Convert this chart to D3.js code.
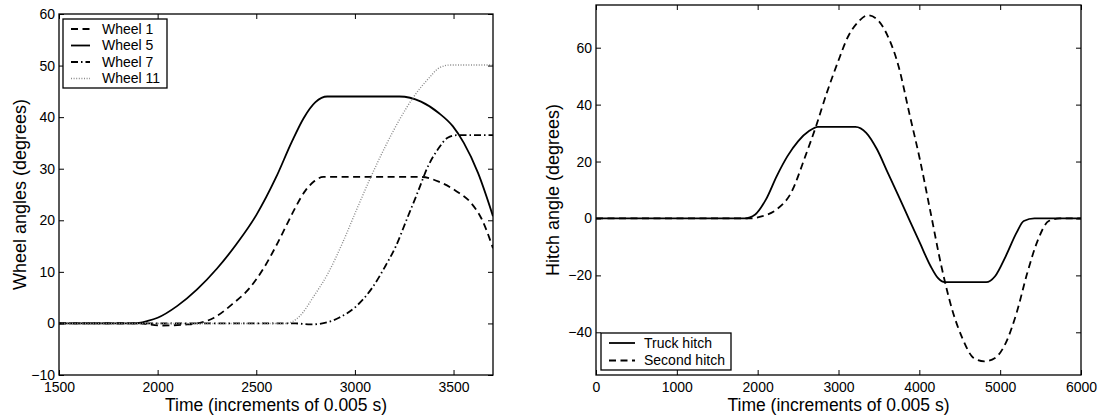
<!DOCTYPE html>
<html>
<head>
<meta charset="utf-8">
<script src="https://cdn.jsdelivr.net/npm/d3@7"></script>
<style>
  body { margin: 0; background: white; }
  svg { font-family: "Liberation Sans", Arial, sans-serif; }
</style>
</head>
<body>
<svg width="1102" height="417"></svg>
<script>
// left panel: wheel angles
let wheelNames = ['Wheel 1', 'Wheel 5', 'Wheel 7', 'Wheel 11'];
let wheel1 = [[1500, 0], [1900, 0], [2015, -0.4], [2150, -0.2], [2214, 0.1], [2286, 1.1], [2377, 3.7], [2467, 6.9], [2539, 10.8],
    [2600, 15], [2650, 18.8], [2700, 22.6], [2750, 25.8], [2795, 27.6], [2840, 28.4], [3335, 28.4], [3425, 27.5],
    [3516, 25.6], [3588, 23.4], [3642, 20.3], [3700, 14.6]];
let wheel5 = [[1500, 0], [1880, 0], [1950, 0.5], [2000, 1.1], [2100, 3.4], [2200, 6.6], [2300, 10.6], [2400, 15.4],
    [2500, 21], [2600, 28.3], [2680, 35.2], [2740, 39.8], [2800, 42.9], [2860, 44], [3226, 44], [3335, 43], [3425, 40.8],
    [3497, 38.2], [3552, 35], [3624, 29.2], [3700, 20.8]];
let wheel7 = [[1500, 0], [2700, 0], [2774, -0.2], [2847, 0.1], [2919, 1.1], [3009, 3.4], [3082, 6.6], [3154, 11.1],
    [3208, 15], [3262, 20.1], [3317, 25.3], [3371, 30.5], [3425, 34], [3470, 36], [3516, 36.5], [3700, 36.5]];
let wheel11 = [[1500, 0], [2648, 0], [2720, 1.4], [2792, 5.3], [2865, 9.8], [2937, 15.6], [3009, 22.1], [3082, 28.5],
    [3154, 34.3], [3226, 39.5], [3299, 44], [3371, 47.4], [3430, 49.6], [3480, 50.1], [3700, 50.1]];
let wheelXTicks = [1500, 2000, 2500, 3000, 3500];
let wheelYTicks = [-10, 0, 10, 20, 30, 40, 50, 60];

// right panel: hitch angles
let hitchNames = ['Truck hitch', 'Second hitch'];
let truckHitch = [[0, 0], [1838, 0], [1970, 1.4], [2103, 6.7], [2236, 14.9], [2369, 21.9], [2502, 27.2], [2635, 30.7],
    [2745, 32.2], [3210, 32.2], [3343, 30.1], [3476, 24.3], [3609, 16.1], [3742, 7.9], [3875, -0.4], [4007, -8.6],
    [4140, -16.8], [4229, -20.9], [4317, -22.4], [4827, -22.4], [4937, -20.3], [5070, -13.2], [5203, -5],
    [5292, -0.9], [5424, 0], [6000, 0]];
let secondHitch = [[0, 0], [1882, 0], [2059, 0.8], [2236, 3.2], [2413, 9], [2590, 21.9], [2723, 32.5], [2856, 44.2],
    [2989, 54.7], [3122, 64.1], [3255, 69.4], [3365, 71.4], [3476, 70], [3609, 64.1], [3742, 53.6], [3875, 37.1],
    [4007, 20.7], [4140, 2], [4273, -16.8], [4406, -32], [4539, -42.5], [4671, -49], [4804, -50.2], [4937, -49],
    [5070, -43.7], [5203, -33.2], [5336, -19.1], [5469, -7.4], [5601, -0.9], [5734, 0], [6000, 0]];
let hitchXTicks = [0, 1000, 2000, 3000, 4000, 5000, 6000];
let hitchYTicks = [-40, -20, 0, 20, 40, 60];

let svg = d3.select('svg');
let styles = {
    solid: {color: 'black', dash: null},
    dashed: {color: 'black', dash: '7,4.5'},
    dashdot: {color: 'black', dash: '7,3,1.5,3'},
    dotted: {color: '#8a8a8a', dash: '1,1.6'},
};

function panel(opt) {
    let x = d3.scaleLinear().domain(opt.xDomain).range([opt.left, opt.right]);
    let y = d3.scaleLinear().domain(opt.yDomain).range([opt.bottom, opt.top]);
    let g = svg.append('g');
    let clipId = 'clip' + opt.id;
    g.append('clipPath').attr('id', clipId).append('rect')
        .attr('x', opt.left).attr('y', opt.top)
        .attr('width', opt.right - opt.left).attr('height', opt.bottom - opt.top);

    let line = d3.line().x(function(d) {return x(d[0])}).y(function(d) {return y(d[1])}).curve(d3.curveMonotoneX);
    opt.series.forEach(function(s) {
        let st = styles[s.style];
        g.append('path').datum(s.data)
            .attr('clip-path', 'url(#' + clipId + ')')
            .attr('fill', 'none').attr('stroke', st.color).attr('stroke-width', s.style == 'dotted' ? 1.4 : 1.8)
            .attr('stroke-dasharray', st.dash)
            .attr('d', line);
    });

    let fmt = d3.format('d');
    let bottomAxis = d3.axisBottom(x).tickValues(opt.xTicks).tickFormat(fmt).tickSizeInner(-5).tickSizeOuter(0).tickPadding(7);
    let topAxis = d3.axisTop(x).tickValues(opt.xTicks).tickFormat('').tickSizeInner(-5).tickSizeOuter(0);
    let leftAxis = d3.axisLeft(y).tickValues(opt.yTicks).tickFormat(fmt).tickSizeInner(-5).tickSizeOuter(0).tickPadding(4);
    let rightAxis = d3.axisRight(y).tickValues(opt.yTicks).tickFormat('').tickSizeInner(-5).tickSizeOuter(0);
    let axes = [
        g.append('g').attr('transform', 'translate(0,' + opt.bottom + ')').call(bottomAxis),
        g.append('g').attr('transform', 'translate(0,' + opt.top + ')').call(topAxis),
        g.append('g').attr('transform', 'translate(' + opt.left + ',0)').call(leftAxis),
        g.append('g').attr('transform', 'translate(' + opt.right + ',0)').call(rightAxis),
    ];
    axes.forEach(function(a) {
        a.select('.domain').remove();
        a.selectAll('line').attr('stroke', 'black').attr('stroke-width', 1);
        a.selectAll('text').attr('font-size', 14).attr('fill', 'black').attr('font-family', null);
    });
    g.append('rect').attr('x', opt.left).attr('y', opt.top)
        .attr('width', opt.right - opt.left).attr('height', opt.bottom - opt.top)
        .attr('fill', 'none').attr('stroke', 'black').attr('stroke-width', 1.3);

    g.append('text').attr('x', (opt.left + opt.right) / 2).attr('y', 411)
        .attr('text-anchor', 'middle').attr('font-size', 17.5).text(opt.xLabel);
    g.append('text').attr('transform', 'translate(' + opt.yLabelX + ',' + (opt.top + opt.bottom) / 2 + ') rotate(-90)')
        .attr('text-anchor', 'middle').attr('dy', '0.35em').attr('font-size', 18).text(opt.yLabel);

    let L = opt.legend;
    let lg = g.append('g');
    lg.append('rect').attr('x', L.x).attr('y', L.y).attr('width', L.w).attr('height', L.h)
        .attr('fill', 'white').attr('stroke', 'black').attr('stroke-width', 1.3);
    opt.series.forEach(function(s, i) {
        let st = styles[s.style];
        let ly = L.y + L.first + i * L.step;
        lg.append('line').attr('x1', L.x + L.lineX0).attr('x2', L.x + L.lineX1).attr('y1', ly).attr('y2', ly)
            .attr('stroke', st.color).attr('stroke-width', s.style == 'dotted' ? 1.4 : 1.8).attr('stroke-dasharray', st.dash);
        lg.append('text').attr('x', L.x + L.textX).attr('y', ly).attr('dy', '0.35em')
            .attr('font-size', 14).text(s.name);
    });
}

panel({
    id: 'L', left: 59, right: 493, top: 14, bottom: 375,
    xDomain: [1500, 3700], yDomain: [-10, 60], xTicks: wheelXTicks, yTicks: wheelYTicks,
    xLabel: 'Time (increments of 0.005 s)', yLabel: 'Wheel angles (degrees)', yLabelX: 20,
    series: [
        {name: wheelNames[0], data: wheel1, style: 'dashed'},
        {name: wheelNames[1], data: wheel5, style: 'solid'},
        {name: wheelNames[2], data: wheel7, style: 'dashdot'},
        {name: wheelNames[3], data: wheel11, style: 'dotted'},
    ],
    legend: {x: 63, y: 19, w: 104, h: 69, first: 10, step: 16.5, lineX0: 8, lineX1: 27, textX: 39},
});

panel({
    id: 'R', left: 596, right: 1081, top: 5, bottom: 375,
    xDomain: [0, 6000], yDomain: [-55, 75], xTicks: hitchXTicks, yTicks: hitchYTicks,
    xLabel: 'Time (increments of 0.005 s)', yLabel: 'Hitch angle (degrees)', yLabelX: 553,
    series: [
        {name: hitchNames[0], data: truckHitch, style: 'solid'},
        {name: hitchNames[1], data: secondHitch, style: 'dashed'},
    ],
    legend: {x: 601, y: 333, w: 130, h: 37, first: 10, step: 17.5, lineX0: 8, lineX1: 34, textX: 43},
});
</script>
</body>
</html>
